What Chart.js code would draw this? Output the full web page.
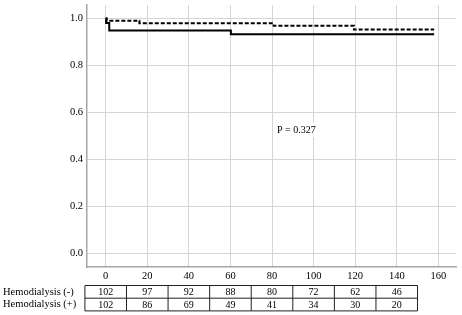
<!DOCTYPE html>
<html>
<head>
<meta charset="utf-8">
<script src="https://cdn.jsdelivr.net/npm/chart.js@4/dist/chart.umd.min.js"></script>
<style>
  html,body{margin:0;padding:0;background:#fff;}
  canvas{display:block;}
</style>
</head>
<body>
<canvas id="km" width="462" height="315"></canvas>
<script>
/* ---------- data ---------- */
const xTicks = [0,20,40,60,80,100,120,140,160];
const yTicks = [0,0.2,0.4,0.6,0.8,1.0];

// Hemodialysis (-) : dashed curve
const negTime = [0, 0.5, 16.2, 80.8, 119.4, 158];
const negSurv = [1, 0.99, 0.979, 0.969, 0.953, 0.953];

// Hemodialysis (+) : solid curve
const posTime = [0, 0.2, 1.7, 60.2, 158];
const posSurv = [1, 0.98, 0.949, 0.933, 0.933];

// number at risk
const riskTimes = [0,20,40,60,80,100,120,140];
const riskNeg   = [102,97,92,88,80,72,62,46];
const riskPos   = [102,86,69,49,41,34,30,20];
const rowLabels = ['Hemodialysis (-)','Hemodialysis (+)'];

const pText = 'P = 0.327', pAt = {x:82.4, y:0.525};

/* ---------- helpers ---------- */
const FONT = '"Liberation Serif","Times New Roman",serif';
const pts  = (t,s) => t.map((v,i)=>({x:v,y:s[i]}));

/* ---------- plugins ---------- */
const pLabel = {
  id:'pLabel',
  afterDatasetsDraw(c){
    const {ctx,scales:{x,y}} = c;
    ctx.save();
    ctx.font = '10px '+FONT;
    const px = x.getPixelForValue(pAt.x), py = y.getPixelForValue(pAt.y);
    const w = ctx.measureText(pText).width;
    ctx.fillStyle = '#fff';
    ctx.fillRect(px-2, py-7, w+4, 14);
    ctx.fillStyle = '#000';
    ctx.textBaseline = 'middle';
    ctx.fillText(pText, px, py);
    ctx.restore();
  }
};

const riskTable = {
  id:'riskTable',
  afterDraw(c){
    const {ctx,scales:{x}} = c;
    const top = c.chartArea.bottom + 18.5, rh = 12.7;
    const step = riskTimes[1]-riskTimes[0];
    const left  = x.getPixelForValue(riskTimes[0]-step/2);
    const right = x.getPixelForValue(riskTimes[riskTimes.length-1]+step/2);
    ctx.save();
    ctx.strokeStyle = '#222'; ctx.lineWidth = 1;
    ctx.beginPath();
    [0,1,2].forEach(r=>{ ctx.moveTo(left, top+r*rh); ctx.lineTo(right, top+r*rh); });
    riskTimes.concat(riskTimes[riskTimes.length-1]+step).forEach(t=>{
      const xp = x.getPixelForValue(t-step/2);
      ctx.moveTo(xp, top); ctx.lineTo(xp, top+2*rh);
    });
    ctx.stroke();
    ctx.fillStyle = '#000';
    ctx.font = '10px '+FONT;
    ctx.textBaseline = 'middle';
    ctx.textAlign = 'center';
    [riskNeg,riskPos].forEach((row,r)=>{
      row.forEach((n,i)=>ctx.fillText(n, x.getPixelForValue(riskTimes[i]), top+r*rh+rh/2+0.5));
    });
    ctx.textAlign = 'left';
    ctx.font = '10.5px '+FONT;
    rowLabels.forEach((l,r)=>ctx.fillText(l, 3, top+r*rh+rh/2));
    ctx.restore();
  }
};

/* ---------- chart ---------- */
new Chart(document.getElementById('km'),{
  type:'line',
  data:{datasets:[
    {label:'Hemodialysis (-)',data:pts(negTime,negSurv),borderColor:'#000',borderWidth:2,
     borderDash:[4,2],stepped:true,pointRadius:0,fill:false},
    {label:'Hemodialysis (+)',data:pts(posTime,posSurv),borderColor:'#000',borderWidth:2,
     stepped:true,pointRadius:0,fill:false}
  ]},
  options:{
    responsive:false,animation:false,
    layout:{padding:{left:0,right:6,top:5,bottom:0}},
    plugins:{legend:{display:false},tooltip:{enabled:false}},
    scales:{
      x:{type:'linear',min:-9,max:168.5,
         afterBuildTicks:s=>{s.ticks=xTicks.map(v=>({value:v}));},
         afterFit:s=>{s.height=48;s.paddingLeft=0;s.paddingRight=0;},
         grid:{color:'#d6d6d6',drawTicks:false},
         border:{color:'#a6a6a6',width:1.5},
         ticks:{color:'#000',padding:3,font:{family:FONT,size:10.5}}},
      y:{min:-0.058,max:1.057,
         afterBuildTicks:s=>{s.ticks=yTicks.map(v=>({value:v}));},
         afterFit:s=>{s.width=87;s.paddingTop=0;s.paddingBottom=0;},
         grid:{color:'#d6d6d6',drawTicks:false},
         border:{color:'#a6a6a6',width:1.5},
         ticks:{color:'#000',padding:4,font:{family:FONT,size:10.5},
                callback:v=>v.toFixed(1)}}
    }
  },
  plugins:[pLabel,riskTable]
});
</script>
</body>
</html>
